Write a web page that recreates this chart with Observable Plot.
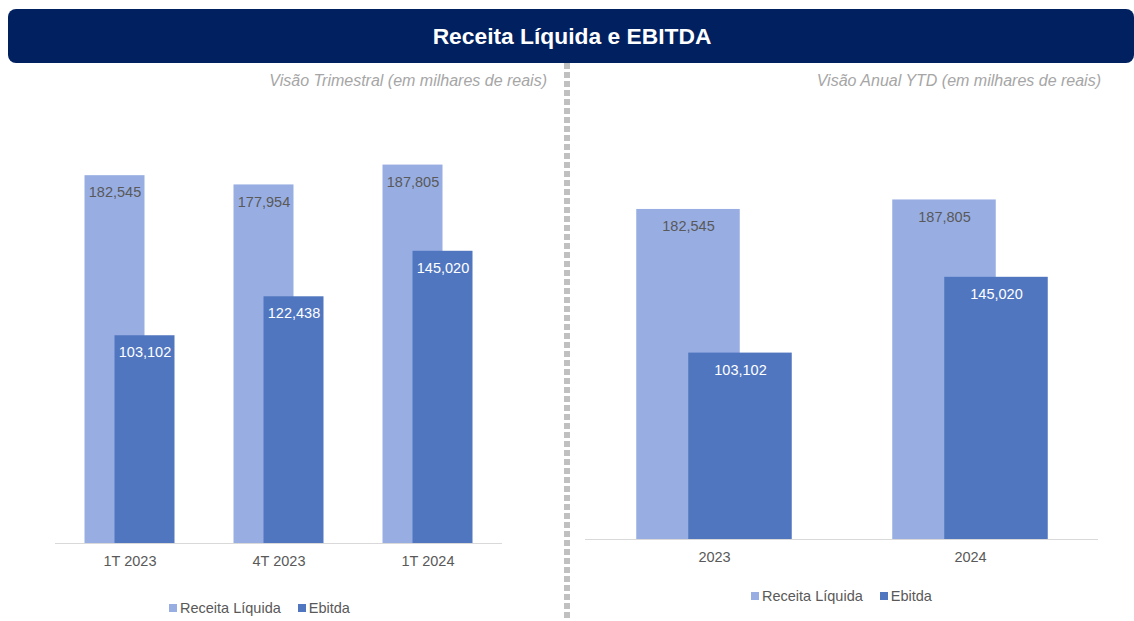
<!DOCTYPE html>
<html>
<head>
<meta charset="utf-8">
<script src="https://cdn.jsdelivr.net/npm/d3@7"></script>
<script src="https://cdn.jsdelivr.net/npm/@observablehq/plot@0.6"></script>
<style>
  html, body { margin: 0; padding: 0; background: #ffffff; }
  #page { position: relative; width: 1134px; height: 621px; overflow: hidden; font-family: "Liberation Sans", Arial, sans-serif; }
  #banner { position: absolute; left: 8px; top: 9px; width: 1126px; height: 54px; background: #002060; border-radius: 8px;
            color: #ffffff; font-weight: bold; font-size: 22.8px; display: flex; align-items: center; justify-content: center; }
  #banner span { position: relative; left: 1px; }
  .subtitle { position: absolute; top: 71px; font-style: italic; font-size: 16px; color: #a6a6a6; white-space: nowrap; line-height: 20px; }
  #divider { position: absolute; left: 564px; top: 63px; width: 6px; height: 558px;
             background: repeating-linear-gradient(to bottom, #c0c0c0 0px, #c0c0c0 6px, transparent 6px, transparent 9px); }
  .chart { position: absolute; top: 0; }
  .legend { position: absolute; display: flex; align-items: center; font-size: 14.5px; color: #595959; white-space: nowrap; line-height: 18px; }
  .legend .sw { display: inline-block; width: 8px; height: 8px; margin-right: 3px; }
  .legend .item { display: flex; align-items: center; margin-right: 17px; }
</style>
</head>
<body>
<div id="page">
  <div id="left" class="chart" style="left:0px;"></div>
  <div id="right" class="chart" style="left:567px;"></div>
  <div id="divider"></div>
  <div id="banner"><span>Receita Líquida e EBITDA</span></div>
  <div class="subtitle" style="right:587px;">Visão Trimestral (em milhares de reais)</div>
  <div class="subtitle" style="right:33px;">Visão Anual YTD (em milhares de reais)</div>
  <div id="legendLeft" class="legend" style="left:169px; top:599px;"></div>
  <div id="legendRight" class="legend" style="left:751px; top:587px;"></div>
</div>
<script>
// ---- Data ----
const quarterCategories = ["1T 2023", "4T 2023", "1T 2024"];
const quarterReceita = [182545, 177954, 187805];
const quarterEbitda = [103102, 122438, 145020];

const yearCategories = ["2023", "2024"];
const yearReceita = [182545, 187805];
const yearEbitda = [103102, 145020];

const seriesNames = ["Receita Líquida", "Ebitda"];
const seriesColors = ["#98AEE3", "#5076BF"];

// ---- Helpers ----
const fmt = d3.format(",");
const FONT = "'Liberation Sans', Arial, sans-serif";

function buildRows(cats, rec, ebt) {
  return cats.map((c, i) => ({cat: c, receita: rec[i], ebitda: ebt[i]}));
}

function makeChart(rows, cats, opts) {
  const {width, height, marginLeft, marginRight, marginTop, marginBottom, barWidth} = opts;
  const step = (width - marginLeft - marginRight) / cats.length;
  const off = barWidth / 4;            // bars overlap by half their width
  const edge = (step - barWidth) / 2;  // inset for a centred bar
  return Plot.plot({
    width, height, marginLeft, marginRight, marginTop, marginBottom,
    style: {fontFamily: FONT, fontSize: "14.5px", background: "transparent"},
    x: {domain: cats, padding: 0, label: null},
    y: {domain: [0, 200000], axis: null},
    marks: [
      Plot.barY(rows, {x: "cat", y: "receita", fill: seriesColors[0],
        insetLeft: edge - off, insetRight: edge + off}),
      Plot.barY(rows, {x: "cat", y: "ebitda", fill: seriesColors[1],
        insetLeft: edge + off, insetRight: edge - off}),
      Plot.ruleY([0], {stroke: "#d9d9d9", strokeWidth: 1}),
      Plot.text(rows, {x: "cat", y: "receita", text: d => fmt(d.receita),
        dx: -off, dy: 17, fill: "#595959", fontSize: 14.5}),
      Plot.text(rows, {x: "cat", y: "ebitda", text: d => fmt(d.ebitda),
        dx: off, dy: 17, fill: "#ffffff", fontSize: 14.5}),
      Plot.axisX({tickSize: 0, tickPadding: 12, fontSize: 14.5, color: "#595959", label: null})
    ]
  });
}

const leftRows = buildRows(quarterCategories, quarterReceita, quarterEbitda);
const rightRows = buildRows(yearCategories, yearReceita, yearEbitda);

document.getElementById("left").appendChild(makeChart(leftRows, quarterCategories, {
  width: 567, height: 580, marginLeft: 55, marginRight: 65, marginTop: 140, marginBottom: 37, barWidth: 60
}));
document.getElementById("right").appendChild(makeChart(rightRows, yearCategories, {
  width: 567, height: 580, marginLeft: 18, marginRight: 36, marginTop: 177.4, marginBottom: 41, barWidth: 104
}));

function buildLegend(el) {
  seriesNames.forEach((name, i) => {
    const item = document.createElement("span");
    item.className = "item";
    const sw = document.createElement("span");
    sw.className = "sw";
    sw.style.background = seriesColors[i];
    item.appendChild(sw);
    item.appendChild(document.createTextNode(name));
    el.appendChild(item);
  });
}
buildLegend(document.getElementById("legendLeft"));
buildLegend(document.getElementById("legendRight"));
</script>
</body>
</html>
